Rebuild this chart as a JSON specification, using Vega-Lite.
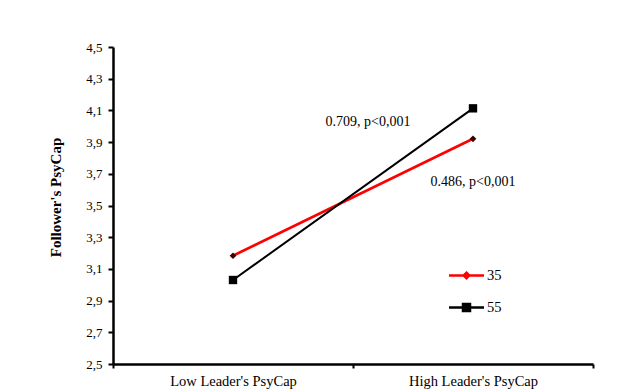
{
  "$schema": "https://vega.github.io/schema/vega-lite/v6.json",
  "width": 480,
  "height": 317,
  "autosize": {"type": "none"},
  "padding": {"left": 113, "top": 47, "right": 48, "bottom": 28},
  "background": "white",
  "config": {
    "view": {"stroke": null},
    "font": "Liberation Serif"
  },
  "datasets": {
    "lines": [
      {"leader": "Low Leader's PsyCap", "group": "35", "value": 3.183},
      {"leader": "High Leader's PsyCap", "group": "35", "value": 3.921},
      {"leader": "Low Leader's PsyCap", "group": "55", "value": 3.03},
      {"leader": "High Leader's PsyCap", "group": "55", "value": 4.113}
    ],
    "note1": [
      {"leader": "High Leader's PsyCap", "value": 4.027, "label": "0.709, p<0,001"}
    ],
    "note2": [
      {"leader": "High Leader's PsyCap", "value": 3.648, "label": "0.486, p<0,001"}
    ]
  },
  "encoding": {
    "x": {
      "field": "leader",
      "type": "nominal",
      "sort": ["Low Leader's PsyCap", "High Leader's PsyCap"],
      "scale": {"domain": ["Low Leader's PsyCap", "High Leader's PsyCap"], "paddingInner": 0, "paddingOuter": 0},
      "axis": {
        "title": null,
        "labelAngle": 0,
        "tickBand": "extent",
        "domainColor": "black",
        "domainWidth": 2.5,
        "tickColor": "black",
        "tickWidth": 2,
        "tickSize": 4,
        "labelFont": "Liberation Serif",
        "labelFontSize": 14.5,
        "labelColor": "black",
        "labelPadding": 6,
        "grid": false
      }
    },
    "y": {
      "field": "value",
      "type": "quantitative",
      "scale": {"domain": [2.5, 4.5], "nice": false, "zero": false},
      "axis": {
        "title": "Follower's PsyCap",
        "titleFont": "Liberation Serif",
        "titleFontSize": 15,
        "titleFontWeight": "bold",
        "titleColor": "black",
        "titlePadding": 22,
        "titleY": 150,
        "values": [2.5, 2.7, 2.9, 3.1, 3.3, 3.5, 3.7, 3.9, 4.1, 4.3, 4.5],
        "labelExpr": "replace(format(datum.value, '.1f'), '.', ',')",
        "labelFont": "Liberation Serif",
        "labelFontSize": 13,
        "labelColor": "black",
        "labelPadding": 6,
        "tickSize": 5,
        "tickColor": "black",
        "tickWidth": 2,
        "domainColor": "black",
        "domainWidth": 2.5,
        "grid": false
      }
    }
  },
  "layer": [
    {
      "data": {"name": "lines"},
      "transform": [{"filter": "datum.group == '35'"}],
      "mark": {"type": "line", "strokeWidth": 2.6},
      "encoding": {
        "color": {
          "field": "group",
          "type": "nominal",
          "scale": {"domain": ["35", "55"], "range": ["#ff0000", "#000000"]},
          "legend": {
            "orient": "none",
            "legendX": 338,
            "legendY": 213,
            "title": null,
            "padding": 0,
            "symbolSize": 784,
            "symbolStrokeWidth": 2.5,
            "symbolFillColor": "#1a0000",
            "labelFont": "Liberation Serif",
            "labelFontSize": 14.5,
            "labelColor": "black",
            "labelOffset": 5,
            "rowPadding": 8
          }
        },
        "shape": {
          "field": "group",
          "type": "nominal",
          "scale": {"domain": ["35", "55"], "range": ["M-1.25,0H1.25M0,-0.2L0.2,0L0,0.2L-0.2,0Z", "M-1.25,0H1.25M-0.25,-0.25H0.25V0.25H-0.25Z"]}
        }
      }
    },
    {
      "data": {"name": "lines"},
      "transform": [{"filter": "datum.group == '55'"}],
      "mark": {"type": "line", "strokeWidth": 2},
      "encoding": {
        "color": {"field": "group", "type": "nominal"},
        "shape": {"field": "group", "type": "nominal"}
      }
    },
    {
      "data": {"name": "lines"},
      "transform": [{"filter": "datum.group == '35'"}],
      "mark": {"type": "point", "shape": "diamond", "filled": true, "opacity": 1, "size": 45, "color": "#3b0000"},
      "encoding": {}
    },
    {
      "data": {"name": "lines"},
      "transform": [{"filter": "datum.group == '55'"}],
      "mark": {"type": "point", "shape": "square", "filled": true, "opacity": 1, "size": 70, "color": "#000000"},
      "encoding": {}
    },
    {
      "data": {"name": "note1"},
      "mark": {"type": "text", "font": "Liberation Serif", "fontSize": 14, "color": "black", "align": "center", "baseline": "middle", "dx": -105},
      "encoding": {"text": {"field": "label"}}
    },
    {
      "data": {"name": "note2"},
      "mark": {"type": "text", "font": "Liberation Serif", "fontSize": 14, "color": "black", "align": "center", "baseline": "middle"},
      "encoding": {"text": {"field": "label"}}
    }
  ]
}
